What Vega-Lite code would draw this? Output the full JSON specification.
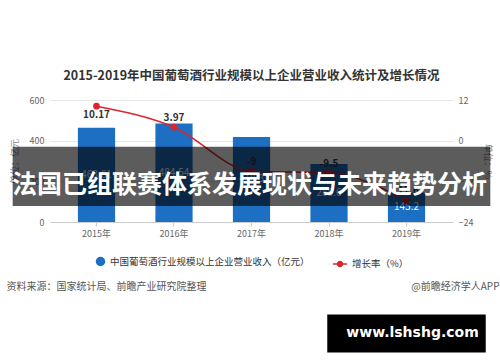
{
  "$schema": "https://vega.github.io/schema/vega-lite/v6.json",
  "autosize": "none",
  "width": 403,
  "height": 122,
  "padding": {"left": 50, "top": 100, "right": 47, "bottom": 140},
  "background": "white",
  "config": {
    "view": {"stroke": null},
    "font": "Noto Sans CJK SC",
    "title": {"font": "Noto Sans CJK SC", "fontSize": 12.5, "fontWeight": "bold", "color": "#333", "offset": 14},
    "axis": {"labelFont": "Noto Sans CJK SC", "titleFont": "Noto Sans CJK SC", "labelColor": "#666", "labelFontSize": 9}
  },
  "title": "2015-2019年中国葡萄酒行业规模以上企业营业收入统计及增长情况",
  "datasets": {
    "main": [
      {"year": "2015年", "revenue": 463.61, "growth": 10.17, "revLabel": "463.61", "growthLabel": "10.17"},
      {"year": "2016年", "revenue": 484.54, "growth": 3.97, "revLabel": "484.54", "growthLabel": "3.97"},
      {"year": "2017年", "revenue": 418.3, "growth": -9, "revLabel": "418.3", "growthLabel": "-9"},
      {"year": "2018年", "revenue": 285.6, "growth": -9.5, "revLabel": "285.6", "growthLabel": "-9.5"},
      {"year": "2019年", "revenue": 145.2, "growth": -17.6, "revLabel": "145.2", "growthLabel": "-17.6"}
    ],
    "overlay": [
      {"banner": "法国已组联赛体系发展现状与未来趋势分析", "site": "www.lshshg.com", "source": "资料来源：国家统计局、前瞻产业研究院整理", "brand": "@前瞻经济学人APP"}
    ]
  },
  "data": {"name": "main"},
  "encoding": {
    "x": {
      "field": "year", "type": "nominal", "sort": null,
      "scale": {"paddingInner": 0.52, "paddingOuter": 0.36},
      "axis": {"title": null, "labelAngle": 0, "domainColor": "#cccccc", "tickColor": "#cccccc", "tickSize": 4, "labelPadding": 3}
    }
  },
  "layer": [
    {
      "layer": [
        {
          "mark": {"type": "bar"},
          "encoding": {
            "y": {
              "field": "revenue", "type": "quantitative",
              "scale": {"domain": [0, 600], "nice": false},
              "axis": {"values": [0, 200, 400, 600], "title": "单位：亿元", "titleFontSize": 9, "titleFontWeight": "normal", "titleColor": "#888", "titlePadding": 10, "domain": false, "ticks": false, "gridColor": "#e6e6e6", "labelPadding": 6}
            },
            "fill": {
              "datum": "中国葡萄酒行业规模以上企业营业收入（亿元）",
              "scale": {"range": ["#1c6fc2"]},
              "legend": {"title": null, "orient": "none", "legendX": 45, "legendY": 156, "symbolType": "circle", "symbolSize": 90, "labelFontSize": 9.5, "labelColor": "#333", "labelLimit": 400, "labelFont": "Noto Sans CJK SC"}
            }
          }
        },
        {
          "transform": [{"calculate": "datum.revenue / 2", "as": "labelY"}],
          "mark": {"type": "text", "color": "white", "fontSize": 10, "baseline": "middle"},
          "encoding": {
            "y": {"field": "labelY", "type": "quantitative", "scale": {"domain": [0, 600], "nice": false}},
            "text": {"field": "revLabel"}
          }
        }
      ]
    },
    {
      "layer": [
        {
          "mark": {"type": "line", "interpolate": "monotone", "strokeWidth": 1.5},
          "encoding": {
            "y": {
              "field": "growth", "type": "quantitative",
              "scale": {"domain": [-24, 12], "nice": false, "zero": false},
              "axis": {"orient": "right", "values": [-24, -12, 0, 12], "title": "单位：%", "titleFontSize": 9, "titleFontWeight": "normal", "titleColor": "#888", "titlePadding": 10, "domain": false, "ticks": false, "grid": false, "labelPadding": 5}
            },
            "stroke": {
              "datum": "增长率（%）",
              "scale": {"range": ["#d9262c"]},
              "legend": {"title": null, "orient": "none", "legendX": 282, "legendY": 156, "symbolType": "M-1,0H1M0.35,0A0.35,0.35,0,1,1,-0.35,0A0.35,0.35,0,1,1,0.35,0Z", "symbolSize": 200, "symbolStrokeWidth": 1.5, "symbolFillColor": "#d9262c", "labelFontSize": 9.5, "labelColor": "#333", "labelFont": "Noto Sans CJK SC"}
            }
          }
        },
        {
          "mark": {"type": "point", "filled": true, "size": 45, "color": "#d9262c", "opacity": 1},
          "encoding": {
            "y": {"field": "growth", "type": "quantitative", "scale": {"domain": [-24, 12], "nice": false, "zero": false}}
          }
        },
        {
          "transform": [{"filter": "datum.growth < 5"}],
          "mark": {"type": "text", "fontSize": 10, "fontWeight": "bold", "color": "#333", "baseline": "bottom", "dy": -4},
          "encoding": {
            "y": {"field": "growth", "type": "quantitative", "scale": {"domain": [-24, 12], "nice": false, "zero": false}},
            "text": {"field": "growthLabel"}
          }
        },
        {
          "transform": [{"filter": "datum.growth >= 5"}],
          "mark": {"type": "text", "fontSize": 10, "fontWeight": "bold", "color": "#333", "baseline": "top", "dy": 4},
          "encoding": {
            "y": {"field": "growth", "type": "quantitative", "scale": {"domain": [-24, 12], "nice": false, "zero": false}},
            "text": {"field": "growthLabel"}
          }
        },
        {
          "data": {"name": "overlay"},
          "mark": {"type": "bar", "color": "#000000", "opacity": 0.64, "width": {"band": 12.84}},
          "encoding": {
            "x": {"datum": "2017年"},
            "y": {"datum": -1.77, "scale": {"domain": [-24, 12], "nice": false, "zero": false}},
            "y2": {"datum": -19.3}
          }
        },
        {
          "data": {"name": "overlay"},
          "mark": {"type": "text", "color": "white", "fontSize": 25, "fontWeight": "bold", "baseline": "middle", "align": "center", "font": "Noto Sans CJK SC", "dx": -2},
          "encoding": {
            "x": {"datum": "2017年"},
            "y": {"datum": -13.0, "scale": {"domain": [-24, 12], "nice": false, "zero": false}},
            "text": {"field": "banner"}
          }
        },
        {
          "data": {"name": "overlay"},
          "mark": {"type": "bar", "color": "#000000", "width": {"band": 4.26}},
          "encoding": {
            "x": {"datum": "2019年"},
            "y": {"datum": -51.3, "scale": {"domain": [-24, 12], "nice": false, "zero": false}},
            "y2": {"datum": -62.5}
          }
        },
        {
          "data": {"name": "overlay"},
          "mark": {"type": "text", "color": "white", "fontSize": 14, "fontWeight": "bold", "baseline": "middle", "align": "center", "font": "DejaVu Sans", "dx": 6},
          "encoding": {
            "x": {"datum": "2019年"},
            "y": {"datum": -56.9, "scale": {"domain": [-24, 12], "nice": false, "zero": false}},
            "text": {"field": "site"}
          }
        },
        {
          "data": {"name": "overlay"},
          "mark": {"type": "text", "color": "#555", "fontSize": 10, "baseline": "middle", "align": "left", "dx": -90},
          "encoding": {
            "x": {"datum": "2015年"},
            "y": {"datum": -43.1, "scale": {"domain": [-24, 12], "nice": false, "zero": false}},
            "text": {"field": "source"}
          }
        },
        {
          "data": {"name": "overlay"},
          "mark": {"type": "text", "color": "#555", "fontSize": 10, "baseline": "middle", "align": "right", "dx": 93},
          "encoding": {
            "x": {"datum": "2019年"},
            "y": {"datum": -43.1, "scale": {"domain": [-24, 12], "nice": false, "zero": false}},
            "text": {"field": "brand"}
          }
        }
      ]
    }
  ],
  "resolve": {"scale": {"y": "independent"}}
}
